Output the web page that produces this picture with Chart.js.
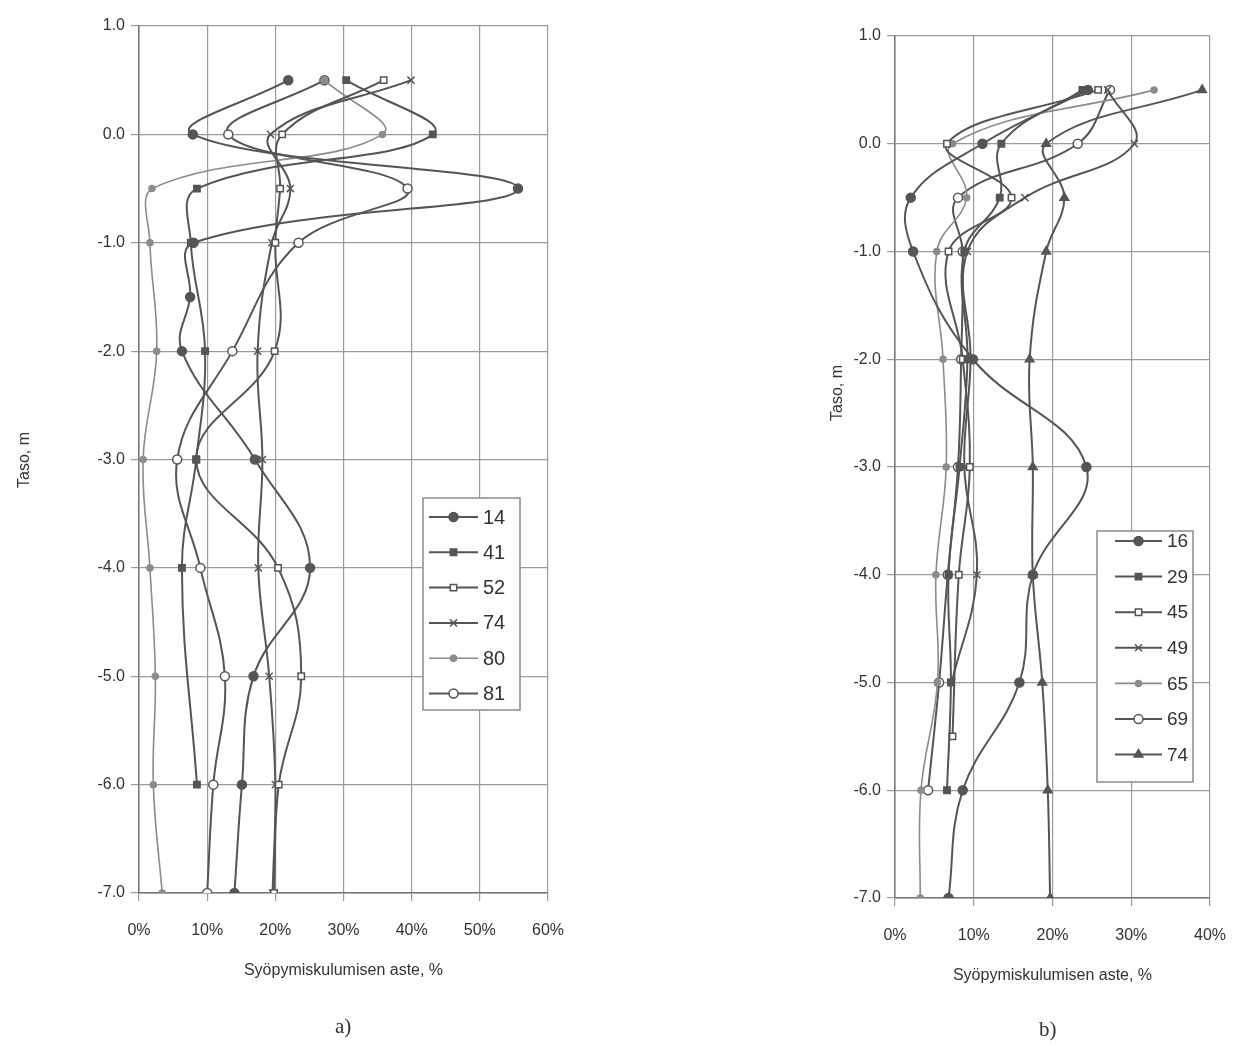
<!DOCTYPE html>
<html>
<head>
<meta charset="utf-8">
<script src="https://cdn.jsdelivr.net/npm/chart.js@4.4.1/dist/chart.umd.min.js"></script>
<style>
  body { margin: 0; background: #fff; width: 1237px; height: 1046px; position: relative; overflow: hidden; }
  canvas { position: absolute; top: 0; }
  #chartA { left: 0; }
  #chartB { left: 620px; }
  .cap { position: absolute; font-family: "Liberation Serif", "DejaVu Serif", serif; font-size: 21px; color: #333; }
</style>
</head>
<body>
<canvas id="chartA" width="620" height="1046"></canvas>
<canvas id="chartB" width="660" height="1046"></canvas>
<div class="cap" style="left:335px; top:1014px;">a)</div>
<div class="cap" style="left:1039px; top:1017px;">b)</div>

<script>
// ─────────────────────────────────────────────
// Data  (taso m  →  syöpymiskuluminen %)
// ─────────────────────────────────────────────
const levelsA = [0.5, 0, -0.5, -1, -1.5, -2, -3, -4, -5, -6, -7];
const a14 = [21.9, 7.9, 55.6, 8.0, 7.5, 6.3, 17.0, 25.1, 16.8, 15.1, 14.0];
const a41 = [30.4, 43.1, 8.5, 7.6, null, 9.7, 8.4, 6.3, null, 8.5, null];
const a52 = [35.9, 21.0, 20.7, 20.0, null, 19.9, 8.4, 20.4, 23.8, 20.5, 19.8];
const a74 = [39.9, 19.3, 22.2, 19.5, null, 17.4, 18.1, 17.5, 19.1, 20.0, 19.6];
const a80 = [27.2, 35.7, 1.9, 1.6, null, 2.6, 0.6, 1.6, 2.4, 2.1, 3.4];
const a81 = [27.2, 13.1, 39.4, 23.4, null, 13.7, 5.6, 9.0, 12.6, 10.9, 10.0];

const levelsB = [0.5, 0, -0.5, -1, -2, -3, -4, -5, -5.5, -6, -7];
const b16 = [24.5, 11.1, 2.0, 2.3, 9.9, 24.3, 17.5, 15.8, null, 8.6, 6.8];
const b29 = [23.8, 13.5, 13.3, 8.8, 9.2, 8.2, 6.8, 7.1, null, 6.6, null];
const b45 = [25.8, 6.6, 14.8, 6.8, 8.6, 9.5, 8.1, null, 7.3, null, null];
const b49 = [27.0, 30.4, 16.5, 9.2, 9.6, 8.8, 10.4, 7.2, null, null, null];
const b65 = [32.9, 7.3, 9.1, 5.3, 6.1, 6.5, 5.2, 5.4, null, 3.3, 3.2];
const b69 = [27.3, 23.2, 8.0, 8.6, 8.4, 8.0, 6.7, 5.6, null, 4.2, null];
const b74 = [39.0, 19.2, 21.5, 19.2, 17.1, 17.5, 17.5, 18.7, null, 19.4, 19.7];

const yTicks = [1, 0, -1, -2, -3, -4, -5, -6, -7];

// ─────────────────────────────────────────────
// Styles
// ─────────────────────────────────────────────
Chart.defaults.font.family = '"Liberation Sans", Arial, sans-serif';
Chart.defaults.color = '#333';

const DARK = '#555';
const LIGHT = '#8c8c8c';

function series(label, levels, values, style) {
  const data = levels
    .map((y, i) => ({ x: values[i], y }))
    .filter((p) => p.x !== null);
  return {
    label,
    data,
    showLine: true,
    tension: 0.4,
    borderColor: style.line || DARK,
    borderWidth: style.width || 2,
    pointStyle: style.shape,
    pointRadius: style.r || 4.5,
    pointBorderWidth: 1.5,
    pointBorderColor: style.line || DARK,
    pointBackgroundColor: style.open ? '#fff' : (style.line || DARK),
  };
}

// ─────────────────────────────────────────────
// Plugins: legend box inside plot, y title
// ─────────────────────────────────────────────
const boxLegend = {
  id: 'boxLegend',
  afterDraw(chart, args, o) {
    const ctx = chart.ctx;
    ctx.save();
    ctx.fillStyle = '#fff';
    ctx.fillRect(o.x, o.y, o.w, o.h);
    ctx.strokeStyle = '#8a8a8a';
    ctx.lineWidth = 1.5;
    ctx.strokeRect(o.x, o.y, o.w, o.h);
    ctx.font = o.fontSize + 'px "Liberation Sans", Arial, sans-serif';
    ctx.textBaseline = 'middle';
    chart.data.datasets.forEach((ds, i) => {
      const cy = o.firstY + i * o.rowH;
      ctx.strokeStyle = ds.borderColor;
      ctx.lineWidth = ds.borderWidth;
      ctx.beginPath();
      ctx.moveTo(o.x + o.lineFrom, cy);
      ctx.lineTo(o.x + o.lineTo, cy);
      ctx.stroke();
      ctx.fillStyle = ds.pointBackgroundColor;
      ctx.strokeStyle = ds.pointBorderColor;
      ctx.lineWidth = ds.pointBorderWidth;
      Chart.helpers.drawPoint(ctx, { pointStyle: ds.pointStyle, radius: ds.pointRadius, rotation: 0, borderWidth: ds.pointBorderWidth },
        o.x + (o.lineFrom + o.lineTo) / 2, cy);
      ctx.fillStyle = '#333';
      ctx.fillText(ds.label, o.x + o.textX, cy + 1);
    });
    ctx.restore();
  },
};

const sideTitle = {
  id: 'sideTitle',
  afterDraw(chart, args, o) {
    const ctx = chart.ctx;
    ctx.save();
    ctx.translate(o.x, o.y);
    ctx.rotate(-Math.PI / 2);
    ctx.font = '16px "Liberation Sans", Arial, sans-serif';
    ctx.fillStyle = '#333';
    ctx.textAlign = 'center';
    ctx.textBaseline = 'middle';
    ctx.fillText(o.text, 0, 0);
    ctx.restore();
  },
};

// ─────────────────────────────────────────────
// Chart factory
// ─────────────────────────────────────────────
function makeChart(canvasId, datasets, cfg) {
  return new Chart(document.getElementById(canvasId), {
    type: 'scatter',
    data: { datasets },
    plugins: [boxLegend, sideTitle],
    options: {
      responsive: false,
      animation: false,
      layout: { padding: cfg.padding },
      plugins: {
        legend: { display: false },
        tooltip: { enabled: false },
        boxLegend: cfg.legend,
        sideTitle: cfg.yTitle,
      },
      scales: {
        x: {
          type: 'linear',
          min: 0,
          max: cfg.xMax,
          afterFit: (s) => { s.height = 95; },
          grid: { color: '#9a9a9a', lineWidth: 1.2, tickLength: 8 },
          border: { color: '#777', width: 1.5 },
          ticks: { stepSize: 10, padding: 20, font: { size: 16 }, maxRotation: 0, callback: (v) => v + '%' },
          title: { display: true, text: 'Syöpymiskulumisen aste, %', font: { size: 16 }, padding: { top: 0, bottom: 8 } },
        },
        y: {
          type: 'linear',
          min: -7,
          max: 1,
          afterFit: (s) => { s.width = cfg.yWidth; },
          afterBuildTicks: (s) => { s.ticks = yTicks.map((v) => ({ value: v })); },
          grid: { color: '#9a9a9a', lineWidth: 1.2, tickLength: 8 },
          border: { color: '#777', width: 1.5 },
          ticks: { padding: 6, font: { size: 16 }, callback: (v) => Number(v).toFixed(1) },
        },
      },
    },
  });
}

makeChart('chartA', [
  series('14', levelsA, a14, { shape: 'circle' }),
  series('41', levelsA, a41, { shape: 'rect', r: 4.5 }),
  series('52', levelsA, a52, { shape: 'rect', r: 4.5, open: true }),
  series('74', levelsA, a74, { shape: 'crossRot', r: 5 }),
  series('80', levelsA, a80, { shape: 'circle', r: 3, line: LIGHT, width: 1.6 }),
  series('81', levelsA, a81, { shape: 'circle', r: 4.5, open: true }),
], {
  xMax: 60,
  yWidth: 139,
  padding: { left: 0, right: 72, top: 26, bottom: 58 },
  yTitle: { text: 'Taso, m', x: 25, y: 460 },
  legend: { x: 423, y: 498, w: 97, h: 212, firstY: 517, rowH: 35.3, lineFrom: 6, lineTo: 55, textX: 60, fontSize: 20 },
});

makeChart('chartB', [
  series('16', levelsB, b16, { shape: 'circle' }),
  series('29', levelsB, b29, { shape: 'rect', r: 4.5 }),
  series('45', levelsB, b45, { shape: 'rect', r: 4.5, open: true }),
  series('49', levelsB, b49, { shape: 'crossRot', r: 5 }),
  series('65', levelsB, b65, { shape: 'circle', r: 3, line: LIGHT, width: 1.6 }),
  series('69', levelsB, b69, { shape: 'circle', r: 4.5, open: true }),
  series('74', levelsB, b74, { shape: 'triangle', r: 5 }),
], {
  xMax: 40,
  yWidth: 275,
  padding: { left: 0, right: 70, top: 36, bottom: 53 },
  yTitle: { text: 'Taso, m', x: 218, y: 393 },
  legend: { x: 477, y: 531, w: 96, h: 251, firstY: 541, rowH: 35.6, lineFrom: 18, lineTo: 65, textX: 70, fontSize: 19 },
});
</script>
</body>
</html>
